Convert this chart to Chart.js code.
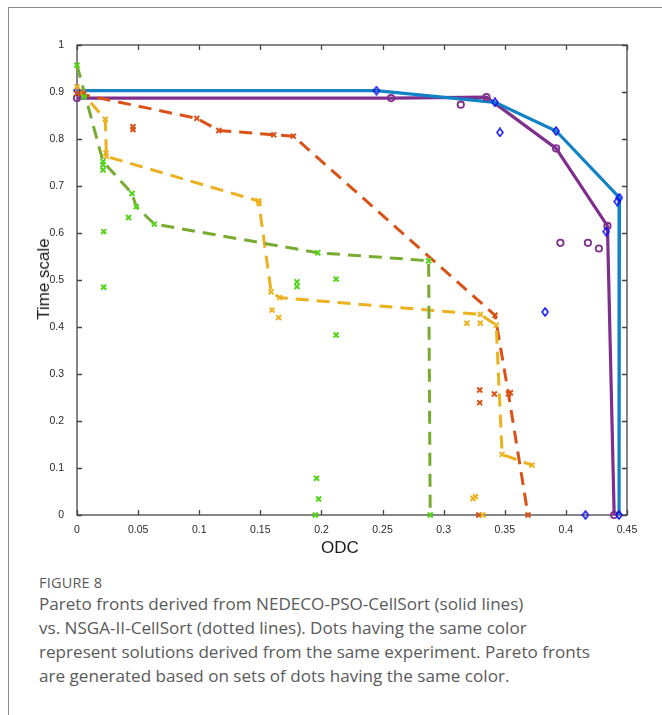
<!DOCTYPE html>
<html>
<head>
<meta charset="utf-8">
<script src="https://cdn.jsdelivr.net/npm/chart.js@4.4.1/dist/chart.umd.min.js"></script>
<style>
  html, body { margin: 0; padding: 0; background: #fff; }
  body { width: 662px; height: 715px; position: relative; overflow: hidden; }
  .frame { position: absolute; left: 8px; top: 7px; width: 700px; height: 760px;
           border-left: 1.5px solid #8a8a8a; border-top: 1.5px solid #8a8a8a; }
  #wrap { position: absolute; left: 0; top: 0; width: 662px; height: 570px; }
  .axis-title { position: absolute; font-family: "Liberation Sans", Arial, sans-serif;
                font-size: 17px; color: #1a1a1a; white-space: nowrap; }
  #xtitle { left: 340px; top: 548px; transform: translate(-50%, -50%); }
  #ytitle { left: 44px; top: 279px; transform: translate(-50%, -50%) rotate(-90deg); }
  .caption { position: absolute; left: 39px; top: 574px; font-family: "Open Sans", "Lato", sans-serif;
             color: #5a5a5a; white-space: nowrap; }
  .caption .fig { font-size: 14.5px; letter-spacing: 0.2px; line-height: 18px; }
  .caption .txt { font-size: 17.1px; line-height: 24px; margin-top: 0px; }
</style>
</head>
<body>
<div class="frame"></div>
<div id="wrap"><canvas id="chart" width="662" height="570"></canvas></div>
<div class="axis-title" id="xtitle">ODC</div>
<div class="axis-title" id="ytitle">Time scale</div>
<div class="caption">
  <div class="fig">FIGURE 8</div>
  <div class="txt">Pareto fronts derived from NEDECO-PSO-CellSort (solid lines)<br>vs. NSGA-II-CellSort (dotted lines). Dots having the same color<br>represent solutions derived from the same experiment. Pareto fronts<br>are generated based on sets of dots having the same color.</div>
</div>
<script>
// ---- Data ---------------------------------------------------------------

const X_TICKS = [0, 0.05, 0.1, 0.15, 0.2, 0.25, 0.3, 0.35, 0.4, 0.45];
const Y_TICKS = [0, 0.1, 0.2, 0.3, 0.4, 0.5, 0.6, 0.7, 0.8, 0.9, 1];

// NEDECO-PSO-CellSort, blue run
const blueFrontX = [0, 0.245, 0.342, 0.392, 0.4438, 0.4435];
const blueFrontY = [0.903, 0.903, 0.878, 0.817, 0.675, 0];
const blueDotsX = [0.346, 0.442, 0.433, 0.383, 0.416];
const blueDotsY = [0.814, 0.667, 0.603, 0.432, 0];

// NEDECO-PSO-CellSort, purple run
const purpleFrontX = [0, 0.257, 0.335, 0.392, 0.434, 0.4395];
const purpleFrontY = [0.887, 0.887, 0.889, 0.78, 0.615, 0];
const purpleDotsX = [0.314, 0.3955, 0.418, 0.427];
const purpleDotsY = [0.873, 0.579, 0.579, 0.567];

// NSGA-II-CellSort, red run
const redFrontX = [0, 0.098, 0.116, 0.161, 0.177, 0.342, 0.353, 0.369];
const redFrontY = [0.897, 0.844, 0.818, 0.809, 0.806, 0.425, 0.258, 0];
const redDotsX = [0.0055, 0.0458, 0.0458, 0.3415, 0.3295, 0.3295, 0.3287, 0.3546];
const redDotsY = [0.897, 0.826, 0.82, 0.2575, 0.266, 0.239, 0, 0.26];

// NSGA-II-CellSort, yellow run
const yellowFrontX = [0, 0.0232, 0.024, 0.1486, 0.1588, 0.1658, 0.33, 0.343, 0.3478, 0.3723];
const yellowFrontY = [0.911, 0.842, 0.763, 0.668, 0.475, 0.4625, 0.427, 0.404, 0.129, 0.106];
const yellowDotsX = [0.0237, 0.149, 0.1596, 0.165, 0.319, 0.33, 0.324, 0.326, 0.332];
const yellowDotsY = [0.77, 0.663, 0.436, 0.42, 0.408, 0.408, 0.035, 0.039, 0];

// NSGA-II-CellSort, green run
const greenFrontX = [0, 0.0213, 0.045, 0.0485, 0.0633, 0.197, 0.2877, 0.289];
const greenFrontY = [0.957, 0.752, 0.684, 0.656, 0.619, 0.558, 0.541, 0];
const greenDotsX = [0.0055, 0.0213, 0.0213, 0.0218, 0.0218, 0.0422, 0.18, 0.18, 0.212, 0.212, 0.196, 0.1977, 0.195];
const greenDotsY = [0.89, 0.734, 0.745, 0.603, 0.4845, 0.633, 0.496, 0.486, 0.502, 0.383, 0.078, 0.034, 0];

// ---- Helpers -------------------------------------------------------------

function pts(xs, ys) {
  return xs.map((x, i) => ({ x, y: ys[i] }));
}

// narrow MATLAB-like diamond marker
function diamond(color) {
  const c = document.createElement("canvas");
  c.width = 8;
  c.height = 10;
  const g = c.getContext("2d");
  g.strokeStyle = color;
  g.lineWidth = 1.5;
  g.beginPath();
  g.moveTo(4, 1);
  g.lineTo(7, 5);
  g.lineTo(4, 9);
  g.lineTo(1, 5);
  g.closePath();
  g.stroke();
  return c;
}

function frontLine(xs, ys, color, dashed) {
  return {
    data: pts(xs, ys),
    showLine: true,
    borderColor: color,
    borderWidth: dashed ? 3 : 3.2,
    borderDash: dashed ? [13, 8] : [],
    pointRadius: 0,
    tension: 0,
    clip: false,
    order: 2,
  };
}

function dots(xs, ys, color, style, extra) {
  return Object.assign({
    data: pts(xs, ys),
    showLine: false,
    pointStyle: style,
    pointRadius: 3.5,
    pointBorderWidth: 2,
    pointBorderColor: color,
    pointBackgroundColor: "rgba(0,0,0,0)",
    clip: false,
    order: 1,
  }, extra || {});
}

const BLUE_LINE = "#1282c6";
const BLUE_DOT = "#1010f0";
const PURPLE = "#7e2f8e";
const RED = "#d95319";
const YELLOW = "#edb120";
const GREEN_LINE = "#77ac30";
const GREEN_DOT = "#52d41a";

const PLOT = { left: 77, top: 45, right: 627, bottom: 515 };
const FRAME_COLOR = "#454545";

// box on all four sides with inward ticks, MATLAB style
const boxPlugin = {
  id: "box",
  beforeDatasetsDraw(chart) {
    const { ctx, chartArea: a, scales } = chart;
    ctx.save();
    ctx.strokeStyle = FRAME_COLOR;
    ctx.lineWidth = 1.3;
    ctx.strokeRect(a.left, a.top, a.right - a.left, a.bottom - a.top);
    ctx.beginPath();
    X_TICKS.forEach((v) => {
      const px = Math.round(scales.x.getPixelForValue(v)) + 0.5;
      ctx.moveTo(px, a.bottom); ctx.lineTo(px, a.bottom - 5);
      ctx.moveTo(px, a.top); ctx.lineTo(px, a.top + 5);
    });
    Y_TICKS.forEach((v) => {
      const py = Math.round(scales.y.getPixelForValue(v)) + 0.5;
      ctx.moveTo(a.left, py); ctx.lineTo(a.left + 5, py);
      ctx.moveTo(a.right, py); ctx.lineTo(a.right - 5, py);
    });
    ctx.stroke();
    ctx.restore();
  },
};

const tickFont = { family: "'Liberation Sans', Arial, sans-serif", size: 10.5 };

new Chart(document.getElementById("chart"), {
  type: "scatter",
  data: {
    datasets: [
      frontLine(greenFrontX, greenFrontY, GREEN_LINE, true),
      frontLine(yellowFrontX, yellowFrontY, YELLOW, true),
      frontLine(redFrontX, redFrontY, RED, true),
      frontLine(blueFrontX, blueFrontY, BLUE_LINE, false),
      frontLine(purpleFrontX, purpleFrontY, PURPLE, false),
      dots(greenFrontX.concat(greenDotsX), greenFrontY.concat(greenDotsY), GREEN_DOT, "crossRot"),
      dots(yellowFrontX.concat(yellowDotsX), yellowFrontY.concat(yellowDotsY), YELLOW, "crossRot"),
      dots(redFrontX.concat(redDotsX), redFrontY.concat(redDotsY), RED, "crossRot"),
      dots(blueFrontX.concat(blueDotsX), blueFrontY.concat(blueDotsY), BLUE_DOT, diamond(BLUE_DOT)),
      dots(purpleFrontX.concat(purpleDotsX), purpleFrontY.concat(purpleDotsY), PURPLE, "circle",
        { pointRadius: 3.2, pointBorderWidth: 1.8 }),
    ],
  },
  options: {
    responsive: false,
    animation: false,
    events: [],
    layout: { padding: { left: 0, top: PLOT.top, right: 662 - PLOT.right, bottom: 0 } },
    plugins: { legend: { display: false }, tooltip: { enabled: false } },
    scales: {
      x: {
        type: "linear",
        min: 0,
        max: 0.45,
        afterBuildTicks: (s) => { s.ticks = X_TICKS.map((v) => ({ value: v })); },
        afterFit: (s) => { s.height = 570 - PLOT.bottom; },
        grid: { display: false },
        border: { display: false },
        ticks: {
          color: "#2a2a2a",
          font: tickFont,
          padding: 1,
          maxRotation: 0,
          callback: (v) => String(+(+v).toFixed(3)),
        },
      },
      y: {
        type: "linear",
        min: 0,
        max: 1,
        afterBuildTicks: (s) => { s.ticks = Y_TICKS.map((v) => ({ value: v })); },
        afterFit: (s) => { s.width = PLOT.left; },
        grid: { display: false },
        border: { display: false },
        ticks: {
          color: "#2a2a2a",
          font: tickFont,
          padding: 5,
          callback: (v) => String(+(+v).toFixed(3)),
        },
      },
    },
  },
  plugins: [boxPlugin],
});
</script>
</body>
</html>
